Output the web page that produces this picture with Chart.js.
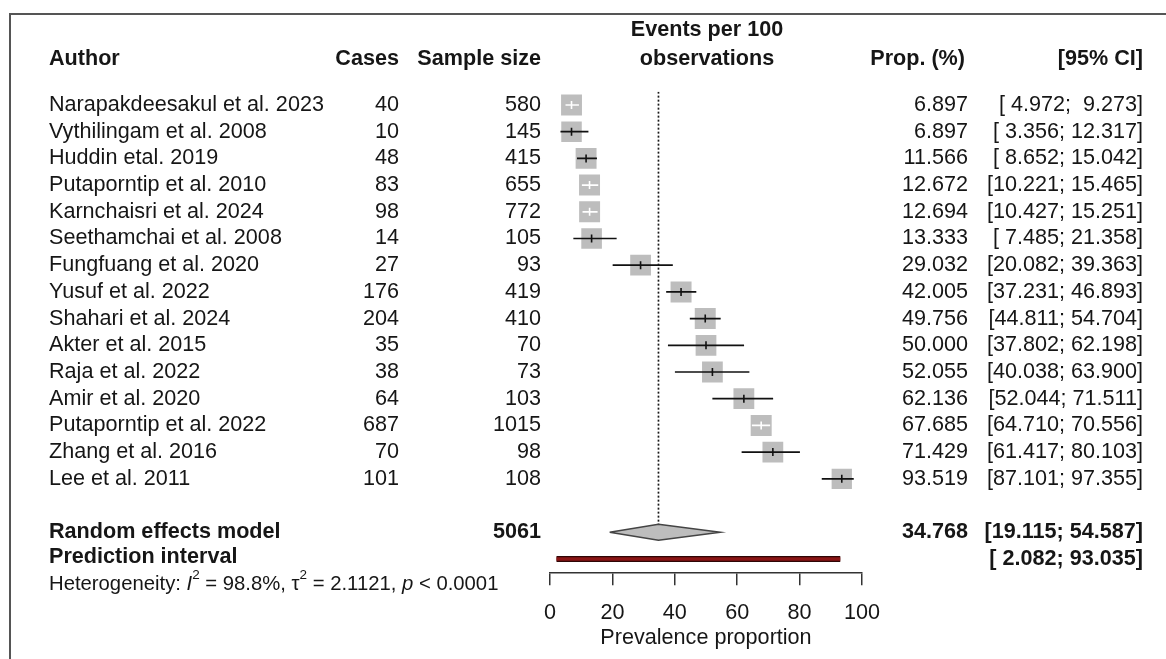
<!DOCTYPE html>
<html><head><meta charset="utf-8">
<script src="https://cdn.jsdelivr.net/npm/chart.js@4.4.1/dist/chart.umd.min.js"></script>
<style>html,body{margin:0;padding:0;background:#fff;}#wrap{position:relative;width:1166px;height:659px;}</style>
</head><body><div id="wrap"><canvas id="c" width="1166" height="659"></canvas></div>
<script>
// ---------- data ----------
const authors = ["Narapakdeesakul et al. 2023","Vythilingam et al. 2008","Huddin etal. 2019","Putaporntip et al. 2010","Karnchaisri et al. 2024","Seethamchai et al. 2008","Fungfuang et al. 2020","Yusuf et al. 2022","Shahari et al. 2024","Akter et al. 2015","Raja et al. 2022","Amir et al. 2020","Putaporntip et al. 2022","Zhang et al. 2016","Lee et al. 2011"];
const cases = [40,10,48,83,98,14,27,176,204,35,38,64,687,70,101];
const sampleSize = [580,145,415,655,772,105,93,419,410,70,73,103,1015,98,108];
const prop = [6.897,6.897,11.566,12.672,12.694,13.333,29.032,42.005,49.756,50.000,52.055,62.136,67.685,71.429,93.519];
const lower = [4.972,3.356,8.652,10.221,10.427,7.485,20.082,37.231,44.811,37.802,40.038,52.044,64.710,61.417,87.101];
const upper = [9.273,12.317,15.042,15.465,15.251,21.358,39.363,46.893,54.704,62.198,63.900,71.511,70.556,80.103,97.355];
const weight = [6.73,6.48,6.74,6.77,6.77,6.56,6.65,6.78,6.78,6.63,6.64,6.68,6.80,6.65,6.35];
const totalN = 5061;
const reEst = 34.768, reLower = 19.115, reUpper = 54.587;
const piLower = 2.082, piUpper = 93.035;
const hetI2 = "98.8%", hetTau2 = "2.1121", hetP = "0.0001";
const xTicks = [0,20,40,60,80,100];

// ---------- layout helpers ----------
const FONT = '"Liberation Sans", Arial, sans-serif';
const FS = 21.6;
const rows = authors.map((_, i) => i + 1);
const reRow = authors.length + 2, piRow = authors.length + 3;
const boxSide = weight.map(w => 21 * Math.sqrt(w / 6.8));
const DIAM_H = 0.3;
const COL = { author: 49, cases: 399, sample: 541, events: 707, prop: 968, propHead: 965, ci: 1143 };
const TXT = '#161616';

function ciInside(chart, i) {
  const xs = chart.scales.x;
  const c = xs.getPixelForValue(prop[i]);
  const h = boxSide[i] / 2;
  return xs.getPixelForValue(lower[i]) >= c - h && xs.getPixelForValue(upper[i]) <= c + h;
}
const f3 = v => v.toFixed(3);
const pad6 = v => { let s = f3(v); while (s.length < 6) s = ' ' + s; return s; };
const ciStr = (lo, hi) => '[' + pad6(lo) + '; ' + pad6(hi) + ']';

// ---------- datasets ----------
const datasets = [];
datasets.push({ type: 'line', data: [{x: reEst, y: 0.5}, {x: reEst, y: reRow}], borderColor: '#1a1a1a', borderWidth: 1.7, borderDash: [2, 2], pointRadius: 0, fill: false, order: 20 });
datasets.push({ type: 'scatter', data: prop.map((p, i) => ({x: p, y: rows[i]})), pointStyle: 'rect', pointRadius: boxSide.map(s => s / Math.SQRT2), backgroundColor: '#bdbdbd', borderWidth: 0, order: 10 });
authors.forEach((_, i) => {
  datasets.push({ type: 'line', data: [{x: lower[i], y: rows[i]}, {x: upper[i], y: rows[i]}], borderColor: c => ciInside(c.chart, i) ? '#ffffff' : '#111111', borderWidth: 1.7, pointRadius: 0, fill: false, order: 5 });
});
datasets.push({ type: 'scatter', data: prop.map((p, i) => ({x: p, y: rows[i]})), pointStyle: 'line', rotation: 90, pointRadius: 4, borderWidth: 1.6, borderColor: c => ciInside(c.chart, c.dataIndex) ? '#ffffff' : '#111111', backgroundColor: 'transparent', order: 4 });
datasets.push({ type: 'line', data: [{x: reLower, y: reRow}, {x: reEst, y: reRow - DIAM_H}, {x: reUpper, y: reRow}, {x: reEst, y: reRow + DIAM_H}, {x: reLower, y: reRow}], fill: 'shape', backgroundColor: '#bdbdbd', borderColor: '#444', borderWidth: 1.5, pointRadius: 0, order: 6 });
datasets.push({ type: 'line', data: [{x: piLower, y: piRow}, {x: piUpper, y: piRow}], borderColor: '#2e0606', borderWidth: 6, pointRadius: 0, fill: false, borderCapStyle: 'butt', order: 3 });
datasets.push({ type: 'line', data: [{x: piLower, y: piRow}, {x: piUpper, y: piRow}], borderColor: '#8a1414', borderWidth: 3.5, pointRadius: 0, fill: false, borderCapStyle: 'butt', order: 2 });

// ---------- text plugin ----------
const tablePlugin = {
  id: 'table',
  beforeDraw(chart) {
    const ctx = chart.ctx;
    ctx.save();
    ctx.strokeStyle = '#555';
    ctx.lineWidth = 2;
    ctx.beginPath();
    ctx.moveTo(10, 659); ctx.lineTo(10, 14); ctx.lineTo(1166, 14);
    ctx.stroke();
    ctx.restore();
  },
  afterDraw(chart) {
    const ctx = chart.ctx, ys = chart.scales.y;
    ctx.save();
    ctx.fillStyle = TXT;
    ctx.textBaseline = 'middle';
    const bold = 'bold ' + FS + 'px ' + FONT, norm = FS + 'px ' + FONT;
    const put = (t, x, y, al, f) => { ctx.font = f; ctx.textAlign = al; ctx.fillText(t, x, y); };
    const hy = 59;
    put('Author', COL.author, hy, 'left', bold);
    put('Cases', COL.cases, hy, 'right', bold);
    put('Sample size', COL.sample, hy, 'right', bold);
    put('Events per 100', COL.events, 30, 'center', bold);
    put('observations', COL.events, hy, 'center', bold);
    put('Prop. (%)', COL.propHead, hy, 'right', bold);
    put('[95% CI]', COL.ci, hy, 'right', bold);
    authors.forEach((a, i) => {
      const y = ys.getPixelForValue(rows[i]);
      put(a, COL.author, y, 'left', norm);
      put(String(cases[i]), COL.cases, y, 'right', norm);
      put(String(sampleSize[i]), COL.sample, y, 'right', norm);
      put(f3(prop[i]), COL.prop, y, 'right', norm);
      put(ciStr(lower[i], upper[i]), COL.ci, y, 'right', norm);
    });
    let y = ys.getPixelForValue(reRow);
    put('Random effects model', COL.author, y, 'left', bold);
    put(String(totalN), COL.sample, y, 'right', bold);
    put(f3(reEst), COL.prop, y, 'right', bold);
    put(ciStr(reLower, reUpper), COL.ci, y, 'right', bold);
    y = ys.getPixelForValue(piRow) - 2;
    put('Prediction interval', COL.author, y, 'left', bold);
    put(ciStr(piLower, piUpper), COL.ci, y + 2, 'right', bold);
    const hf = 20.3, sf = 13.5;
    const segs = [
      ['Heterogeneity: ', hf + 'px ' + FONT, 0],
      ['I', 'italic ' + hf + 'px ' + FONT, 0],
      ['2', sf + 'px ' + FONT, -9],
      [' = ' + hetI2 + ', ', hf + 'px ' + FONT, 0],
      ['\u03C4', hf + 'px ' + FONT, 0],
      ['2', sf + 'px ' + FONT, -9],
      [' = ' + hetTau2 + ', ', hf + 'px ' + FONT, 0],
      ['p', 'italic ' + hf + 'px ' + FONT, 0],
      [' < ' + hetP, hf + 'px ' + FONT, 0]
    ];
    let x = COL.author; const hy2 = 584;
    ctx.textAlign = 'left';
    segs.forEach(([t, f, dy]) => { ctx.font = f; ctx.fillText(t, x, hy2 + dy); x += ctx.measureText(t).width; });
    ctx.restore();
  }
};

new Chart(document.getElementById('c'), {
  type: 'scatter',
  data: { datasets },
  options: {
    responsive: false, animation: false, events: [],
    layout: { padding: { left: 550, right: 304, top: 91.65, bottom: 0 } },
    plugins: { legend: { display: false }, tooltip: { enabled: false } },
    scales: {
      x: {
        type: 'linear', min: xTicks[0], max: xTicks[xTicks.length - 1],
        afterFit: s => { s.height = 659 - 572.25; },
        afterBuildTicks: s => { s.ticks = xTicks.map(v => ({value: v})); },
        border: { display: true, color: '#333', width: 1.5 },
        grid: { drawOnChartArea: false, drawTicks: true, tickLength: 13, color: '#333', lineWidth: 1.5, tickColor: '#333', tickWidth: 1.5 },
        ticks: { padding: 15, color: TXT, font: { family: FONT, size: FS }, maxRotation: 0, autoSkip: false },
        title: { display: true, text: 'Prevalence proportion', color: TXT, font: { family: FONT, size: FS }, padding: { top: 0, bottom: 8 } }
      },
      y: { type: 'linear', display: false, reverse: true, min: 0.5, max: piRow + 0.5 }
    }
  },
  plugins: [tablePlugin]
});
</script></body></html>
